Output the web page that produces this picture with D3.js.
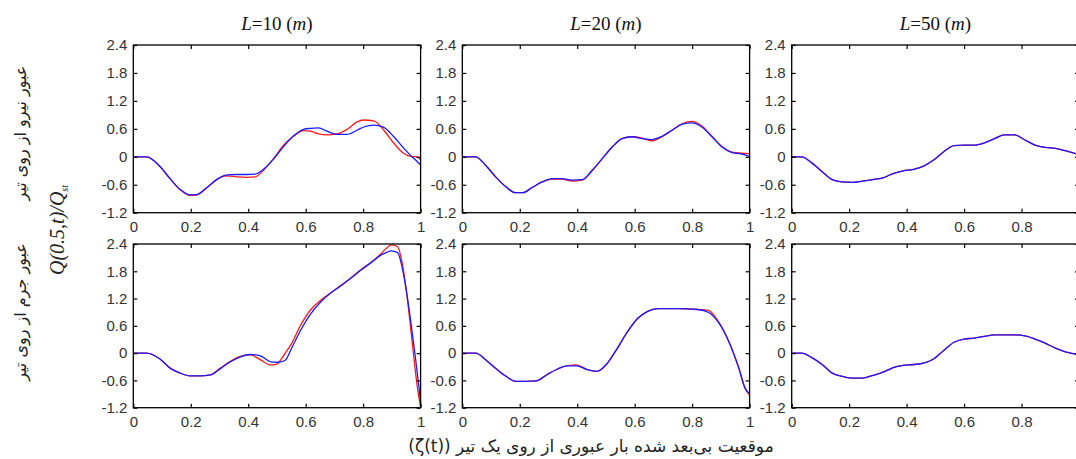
<!DOCTYPE html>
<html>
<head>
<meta charset="utf-8">
<script src="https://cdn.jsdelivr.net/npm/d3@7"></script>
<style>
  body { margin: 0; background: #fff; }
  svg { display: block; }
</style>
</head>
<body>
<svg id="chart" width="1076" height="459"></svg>
<script>
// tick values and column titles
var xTickVals = [0, 0.2, 0.4, 0.6, 0.8, 1];
var yTickVals = [-1.2, -0.6, 0, 0.6, 1.2, 1.8, 2.4];
var spanLabels = ["10", "20", "50"];

// force crossing the beam (top row)
var forceL10X = [0, 0.047, 0.093, 0.128, 0.163, 0.198, 0.221, 0.256, 0.29, 0.326, 0.36, 0.395, 0.424, 0.453, 0.488, 0.523, 0.558, 0.593, 0.616, 0.645, 0.674, 0.709, 0.744, 0.779, 0.802, 0.837, 0.872, 0.907, 0.942, 0.965, 0.988, 1.0];
var forceL10Blue = [0, 0, -0.21, -0.47, -0.70, -0.82, -0.81, -0.66, -0.49, -0.39, -0.38, -0.38, -0.37, -0.27, -0.05, 0.22, 0.45, 0.59, 0.61, 0.62, 0.55, 0.48, 0.48, 0.57, 0.64, 0.68, 0.63, 0.43, 0.18, 0.03, -0.1, -0.18];
var forceL10Red = [0, 0, -0.21, -0.47, -0.71, -0.83, -0.82, -0.67, -0.49, -0.41, -0.43, -0.44, -0.43, -0.29, -0.04, 0.25, 0.44, 0.56, 0.55, 0.49, 0.47, 0.49, 0.59, 0.75, 0.79, 0.77, 0.57, 0.29, 0.07, 0.01, 0, -0.07];

var forceL20X = [0, 0.046, 0.081, 0.116, 0.151, 0.185, 0.21, 0.243, 0.278, 0.313, 0.347, 0.382, 0.417, 0.452, 0.487, 0.522, 0.556, 0.591, 0.626, 0.66, 0.695, 0.73, 0.765, 0.8, 0.834, 0.869, 0.904, 0.939, 0.973, 1.0];
var forceL20Blue = [0, 0, -0.18, -0.43, -0.64, -0.77, -0.77, -0.66, -0.54, -0.47, -0.47, -0.5, -0.49, -0.29, -0.04, 0.21, 0.39, 0.43, 0.39, 0.37, 0.44, 0.57, 0.70, 0.73, 0.64, 0.43, 0.21, 0.09, 0.06, 0.01];
var forceL20Red = [0, 0, -0.18, -0.43, -0.64, -0.77, -0.77, -0.66, -0.54, -0.48, -0.48, -0.52, -0.5, -0.3, -0.04, 0.21, 0.39, 0.43, 0.4, 0.34, 0.43, 0.57, 0.71, 0.76, 0.66, 0.44, 0.22, 0.1, 0.08, 0.07];

var forceL50X = [0, 0.035, 0.07, 0.106, 0.141, 0.176, 0.212, 0.247, 0.282, 0.318, 0.353, 0.388, 0.424, 0.459, 0.494, 0.529, 0.565, 0.6, 0.635, 0.671, 0.706, 0.741, 0.776, 0.812, 0.847, 0.882, 0.918, 0.953, 0.988, 1.0];
var forceL50Blue = [0, 0, -0.13, -0.32, -0.49, -0.54, -0.55, -0.52, -0.49, -0.45, -0.36, -0.3, -0.27, -0.2, -0.07, 0.11, 0.24, 0.25, 0.25, 0.30, 0.39, 0.47, 0.47, 0.36, 0.25, 0.2, 0.18, 0.13, 0.07, 0.04];
var forceL50Red = [0, 0, -0.13, -0.32, -0.49, -0.54, -0.55, -0.52, -0.49, -0.45, -0.36, -0.3, -0.27, -0.2, -0.07, 0.11, 0.24, 0.25, 0.25, 0.30, 0.39, 0.47, 0.47, 0.36, 0.25, 0.2, 0.18, 0.13, 0.07, 0.04];

// mass crossing the beam (bottom row)
var massL10X = [0, 0.047, 0.093, 0.128, 0.163, 0.198, 0.233, 0.268, 0.303, 0.338, 0.373, 0.408, 0.443, 0.478, 0.5, 0.513, 0.53, 0.548, 0.583, 0.618, 0.653, 0.688, 0.723, 0.758, 0.793, 0.828, 0.863, 0.88, 0.898, 0.92, 0.935, 0.95, 0.965, 0.98, 0.99, 1.0];
var massL10Blue = [0, 0, -0.13, -0.33, -0.44, -0.5, -0.5, -0.48, -0.34, -0.19, -0.08, -0.03, -0.06, -0.19, -0.2, -0.19, -0.15, 0.07, 0.51, 0.87, 1.13, 1.33, 1.48, 1.65, 1.83, 1.99, 2.16, 2.21, 2.25, 2.21, 1.91, 1.39, 0.73, 0, -0.52, -1.07];
var massL10Red = [0, 0, -0.13, -0.33, -0.44, -0.5, -0.5, -0.48, -0.33, -0.18, -0.07, -0.04, -0.15, -0.26, -0.24, -0.15, 0.01, 0.18, 0.62, 0.96, 1.17, 1.33, 1.49, 1.66, 1.84, 2.0, 2.19, 2.3, 2.38, 2.34, 2.01, 1.39, 0.58, -0.3, -0.81, -1.18];

var massL20X = [0, 0.047, 0.082, 0.117, 0.152, 0.187, 0.222, 0.258, 0.293, 0.328, 0.363, 0.398, 0.434, 0.469, 0.504, 0.539, 0.574, 0.61, 0.645, 0.68, 0.75, 0.82, 0.856, 0.891, 0.926, 0.961, 0.985, 1.0];
var massL20Blue = [0, 0, -0.15, -0.34, -0.51, -0.62, -0.62, -0.61, -0.48, -0.36, -0.28, -0.28, -0.36, -0.4, -0.23, 0.1, 0.46, 0.76, 0.92, 0.98, 0.98, 0.96, 0.9, 0.68, 0.28, -0.3, -0.78, -0.89];
var massL20Red = [0, 0, -0.15, -0.34, -0.51, -0.62, -0.62, -0.61, -0.48, -0.36, -0.28, -0.26, -0.36, -0.4, -0.23, 0.1, 0.46, 0.76, 0.92, 0.98, 0.98, 0.96, 0.94, 0.7, 0.28, -0.3, -0.78, -0.92];

var massL50X = [0, 0.035, 0.07, 0.106, 0.141, 0.176, 0.212, 0.247, 0.282, 0.318, 0.353, 0.388, 0.424, 0.459, 0.494, 0.529, 0.565, 0.6, 0.635, 0.671, 0.706, 0.741, 0.776, 0.812, 0.847, 0.882, 0.918, 0.953, 0.988, 1.0];
var massL50Blue = [0, 0, -0.1, -0.25, -0.44, -0.51, -0.55, -0.55, -0.49, -0.42, -0.32, -0.27, -0.25, -0.22, -0.13, 0.06, 0.24, 0.31, 0.33, 0.37, 0.40, 0.40, 0.40, 0.38, 0.31, 0.22, 0.11, 0.03, -0.02, -0.03];
var massL50Red = [0, 0, -0.1, -0.25, -0.44, -0.51, -0.55, -0.55, -0.49, -0.42, -0.32, -0.27, -0.25, -0.22, -0.13, 0.06, 0.24, 0.31, 0.33, 0.37, 0.40, 0.40, 0.40, 0.38, 0.31, 0.22, 0.11, 0.03, -0.02, -0.03];

var panels = [
    {col: 0, row: 0, x: forceL10X, red: forceL10Red, blue: forceL10Blue},
    {col: 1, row: 0, x: forceL20X, red: forceL20Red, blue: forceL20Blue},
    {col: 2, row: 0, x: forceL50X, red: forceL50Red, blue: forceL50Blue},
    {col: 0, row: 1, x: massL10X, red: massL10Red, blue: massL10Blue},
    {col: 1, row: 1, x: massL20X, red: massL20Red, blue: massL20Blue},
    {col: 2, row: 1, x: massL50X, red: massL50Red, blue: massL50Blue}
];

var colLeft = [133.3, 462.3, 791.7];
var panelW = 287.3;
var rowTop = [45, 244];
var rowBottom = [212.7, 407.7];

var svg = d3.select("#chart");
var tickFont = "'Liberation Sans', Arial, sans-serif";

panels.forEach(function (p) {
    var x = d3.scaleLinear().domain([0, 1]).range([colLeft[p.col], colLeft[p.col] + panelW]);
    var y = d3.scaleLinear().domain([-1.2, 2.4]).range([rowBottom[p.row], rowTop[p.row]]);
    var g = svg.append("g");

    var line = d3.line()
        .x(function (d) { return x(d[0]); })
        .y(function (d) { return y(d[1]); })
        .curve(d3.curveMonotoneX);

    g.append("path").datum(d3.zip(p.x, p.red))
        .attr("d", line).attr("fill", "none")
        .attr("stroke", "#ff1a1a").attr("stroke-width", 1.3);
    g.append("path").datum(d3.zip(p.x, p.blue))
        .attr("d", line).attr("fill", "none")
        .attr("stroke", "#1a1aff").attr("stroke-width", 1.3);

    var fmt = function (d) { return String(d); };

    var ax = g.append("g").attr("transform", "translate(0," + y.range()[0] + ")")
        .call(d3.axisBottom(x).tickValues(xTickVals).tickFormat(fmt).tickSizeInner(-4).tickSizeOuter(0).tickPadding(9));
    var ay = g.append("g").attr("transform", "translate(" + x.range()[0] + ",0)")
        .call(d3.axisLeft(y).tickValues(yTickVals).tickFormat(fmt).tickSizeInner(-4).tickSizeOuter(0).tickPadding(6));
    var at = g.append("g").attr("transform", "translate(0," + y.range()[1] + ")")
        .call(d3.axisTop(x).tickValues(xTickVals).tickFormat("").tickSizeInner(-4).tickSizeOuter(0));
    var ar = g.append("g").attr("transform", "translate(" + x.range()[1] + ",0)")
        .call(d3.axisRight(y).tickValues(yTickVals).tickFormat("").tickSizeInner(-4).tickSizeOuter(0));

    [ax, ay, at, ar].forEach(function (a) {
        a.select(".domain").remove();
        a.selectAll(".tick line").attr("stroke", "#000").attr("stroke-width", 1.2);
        a.selectAll(".tick text").attr("font-family", tickFont).attr("font-size", 15).attr("fill", "#333");
    });

    g.append("rect")
        .attr("x", x.range()[0]).attr("y", y.range()[1])
        .attr("width", panelW).attr("height", y.range()[0] - y.range()[1])
        .attr("fill", "none").attr("stroke", "#000").attr("stroke-width", 1.3);
});

// column titles
spanLabels.forEach(function (s, i) {
    var t = svg.append("text")
        .attr("x", colLeft[i] + panelW / 2).attr("y", 30)
        .attr("text-anchor", "middle")
        .attr("font-family", "'Liberation Serif', 'Times New Roman', serif")
        .attr("font-size", 19).attr("fill", "#111");
    t.append("tspan").attr("font-style", "italic").text("L");
    t.append("tspan").text("=" + s + " (");
    t.append("tspan").attr("font-style", "italic").text("m");
    t.append("tspan").text(")");
});

// left labels
var persianFont = "'DejaVu Sans', sans-serif";
svg.append("text")
    .attr("transform", "translate(26,133) rotate(-90)")
    .attr("text-anchor", "middle").attr("direction", "rtl")
    .attr("font-family", persianFont).attr("font-size", 16).attr("fill", "#222")
    .text("عبور نیرو از روی تیر");
svg.append("text")
    .attr("transform", "translate(26,312) rotate(-90)")
    .attr("text-anchor", "middle").attr("direction", "rtl")
    .attr("font-family", persianFont).attr("font-size", 16).attr("fill", "#222")
    .text("عبور جرم از روی تیر");

var q = svg.append("text")
    .attr("transform", "translate(64,230) rotate(-90)")
    .attr("text-anchor", "middle")
    .attr("font-family", "'Liberation Serif', 'Times New Roman', serif")
    .attr("font-style", "italic").attr("font-size", 20).attr("fill", "#222");
q.append("tspan").text("Q(0.5,t)/Q");
q.append("tspan").attr("font-size", 10).attr("dy", 4).text("st");

// x axis label
svg.append("text")
    .attr("x", 591).attr("y", 452)
    .attr("text-anchor", "middle").attr("direction", "rtl")
    .attr("font-family", persianFont).attr("font-size", 17).attr("fill", "#222")
    .text("موقعیت بی\u200cبعد شده بار عبوری از روی یک تیر \u2066(ζ(t))\u2069");
</script>
</body>
</html>
